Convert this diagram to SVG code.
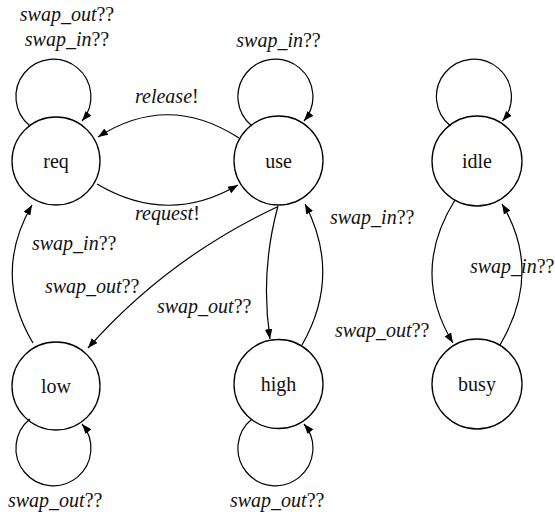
<svg xmlns="http://www.w3.org/2000/svg" width="555" height="515" viewBox="0 0 555 515">
<style>
.n{fill:none;stroke:#000;stroke-width:1.3}
.e{fill:none;stroke:#000;stroke-width:1.2;marker-end:url(#ah)}
text{font-family:'Liberation Serif','Times New Roman',serif;font-size:20px;fill:#111}
.nl{text-anchor:middle}
.l{font-style:italic}
.l tspan{font-style:normal}
</style>
<defs>
<marker id="ah" viewBox="0 0 10 10" refX="10" refY="5" markerWidth="10" markerHeight="10" markerUnits="userSpaceOnUse" orient="auto">
<path d="M0,1.2 L10,5 L0,8.8 Z" fill="#000"/>
</marker>
</defs>
<rect width="555" height="515" fill="#fff"/>
<g id="connectors">
<path class="e" d="M30,126 A37.5,37.5 0 1 1 82,121"/>
<path class="e" d="M252,126 A37.5,37.5 0 1 1 304,121"/>
<path class="e" d="M450.5,126 A37.5,37.5 0 1 1 502.5,121"/>
<path class="e" d="M30,419 A37.5,37.5 0 1 0 82,424"/>
<path class="e" d="M252,419 A37.5,37.5 0 1 0 304,424"/>
<path class="e" d="M239,138 Q168,92 98,137"/>
<path class="e" d="M97,184 Q168,226 238,185"/>
<path class="e" d="M277,207 Q168,258 88,348"/>
<path class="e" d="M278,206 Q260,272 270,339"/>
<path class="e" d="M302,345 Q342,275 305,204"/>
<path class="e" d="M33,343 Q-8,274 32,205"/>
<path class="e" d="M455,200 Q410,272 453,343"/>
<path class="e" d="M500,345 Q543,272 502,204"/>
</g>
<g id="req"><circle class="n" cx="56" cy="161" r="44"/><text class="nl" x="56" y="168">req</text></g>
<g id="use"><circle class="n" cx="278.5" cy="160.5" r="44.5"/><text class="nl" x="278.5" y="168">use</text></g>
<g id="idle"><circle class="n" cx="477" cy="161" r="45"/><text class="nl" x="477" y="168">idle</text></g>
<g id="low"><circle class="n" cx="56" cy="386" r="44"/><text class="nl" x="56" y="393">low</text></g>
<g id="high"><circle class="n" cx="278.5" cy="384" r="44.5"/><text class="nl" x="278.5" y="391">high</text></g>
<g id="busy"><circle class="n" cx="477" cy="384" r="45"/><text class="nl" x="477" y="391">busy</text></g>
<g id="labels">
<text class="l nl" x="67" y="21">swap_out<tspan>??</tspan></text>
<text class="l nl" x="67" y="46">swap_in<tspan>??</tspan></text>
<text class="l nl" x="278.5" y="47">swap_in<tspan>??</tspan></text>
<text class="l" x="135" y="103">release<tspan>!</tspan></text>
<text class="l" x="135" y="220">request<tspan>!</tspan></text>
<text class="l" x="32" y="250">swap_in<tspan>??</tspan></text>
<text class="l" x="45" y="293">swap_out<tspan>??</tspan></text>
<text class="l" x="157" y="313">swap_out<tspan>??</tspan></text>
<text class="l" x="330" y="224">swap_in<tspan>??</tspan></text>
<text class="l" x="335" y="337">swap_out<tspan>??</tspan></text>
<text class="l" x="470" y="273">swap_in<tspan>??</tspan></text>
<text class="l" x="8" y="507">swap_out<tspan>??</tspan></text>
<text class="l" x="230" y="507">swap_out<tspan>??</tspan></text>
</g>
</svg>
